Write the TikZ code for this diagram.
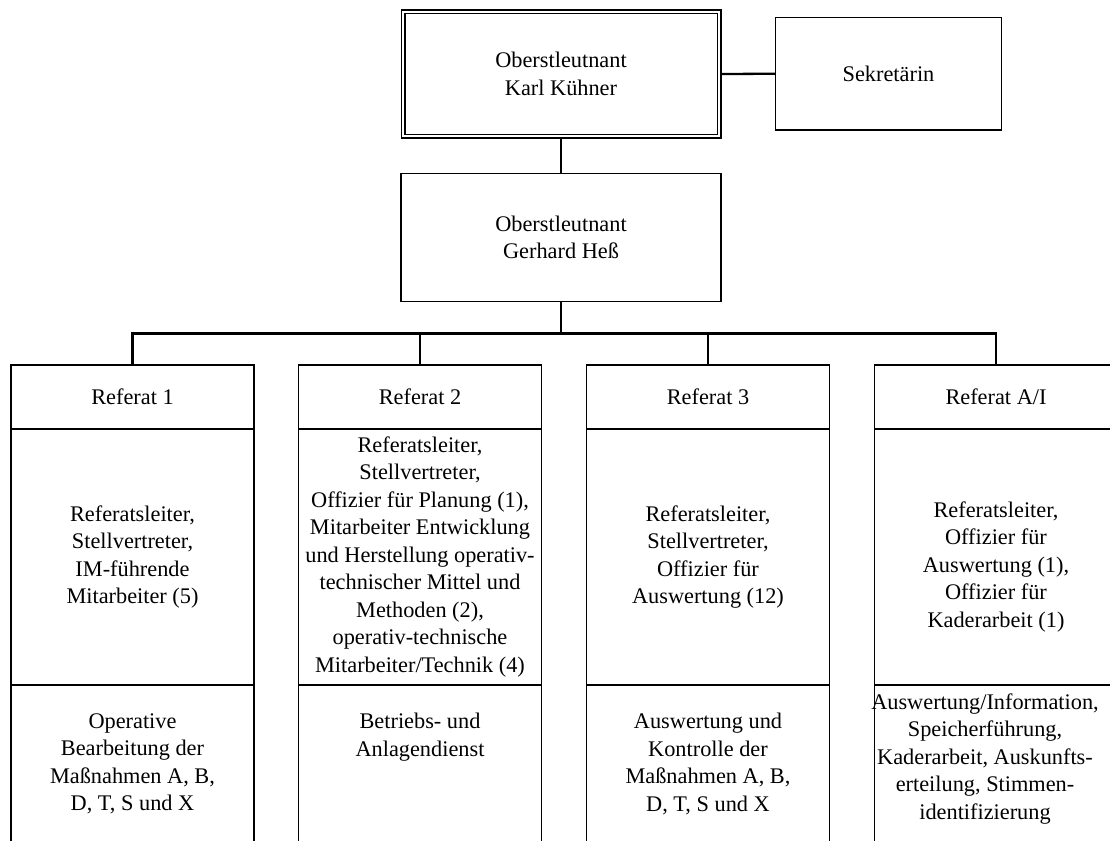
\documentclass[tikz,border=0pt]{standalone}
\usepackage{fontspec}
\setmainfont{Liberation Serif}
\begin{document}
\begin{tikzpicture}[x=1bp,y=-1bp,
  box/.style={draw=black,line width=1.1bp,fill=white,inner sep=0pt,align=center},
  txt/.style={inner sep=0pt,align=center,font=\fontsize{22.4}{27.6}\selectfont},
  conn/.style={draw=black,line width=2.3bp}]
\useasboundingbox (0,0) rectangle (1110,841);
\clip (0,0) rectangle (1110,841);

% head of the department and secretary
\node[box,double,double distance=2.8bp,line width=1.1bp,outer sep=2.5bp,
      minimum width=316bp,minimum height=124bp,
      font=\fontsize{22.4}{27.6}\selectfont] (kuehner) at (561,74)
      {Oberstleutnant\\Karl Kühner};
\node[box,minimum width=226bp,minimum height=112.5bp,
      font=\fontsize{22.4}{27.6}\selectfont] (sekr) at (888.5,73.75) {Sekretärin};
\node[box,minimum width=320bp,minimum height=127.7bp,
      font=\fontsize{22.4}{27.6}\selectfont] (hess) at (561,237.2)
      {Oberstleutnant\\Gerhard Heß};

% columns: header, staff, tasks
\foreach \n/\x in {1/132.5,2/420,3/708,4/996}{
  \node[box,minimum width=243bp,minimum height=64bp] (h\n) at (\x,397) {};
  \node[box,minimum width=243bp,minimum height=256bp] (m\n) at (\x,557) {};
  \node[box,minimum width=243bp,minimum height=170bp] (b\n) at (\x,770) {};
}

\node[txt] (h1t) at (h1) {Referat 1};
\node[txt] (h2t) at (h2) {Referat 2};
\node[txt] (h3t) at (h3) {Referat 3};
\node[txt] (h4t) at (h4) {Referat A/I};

\node[txt] (m1t) at (132.5,557) {Referatsleiter,\\Stellvertreter,\\IM-führende\\Mitarbeiter (5)};
\node[txt] (m2t) at (420,557) {Referatsleiter,\\Stellvertreter,\\Offizier für Planung (1),\\Mitarbeiter Entwicklung\\und Herstellung operativ-\\technischer Mittel und\\Methoden (2),\\operativ-technische\\Mitarbeiter/Technik (4)};
\node[txt] (m3t) at (708,557) {Referatsleiter,\\Stellvertreter,\\Offizier für\\Auswertung (12)};
\node[txt] (m4t) at (996,567) {Referatsleiter,\\Offizier für\\Auswertung (1),\\Offizier für\\Kaderarbeit (1)};

\node[txt] (b1t) at (132.5,764) {Operative\\Bearbeitung der\\Maßnahmen A, B,\\D, T, S und X};
\node[txt] (b2t) at (420,737) {Betriebs- und\\Anlagendienst};
\node[txt] (b3t) at (708,764) {Auswertung und\\Kontrolle der\\Maßnahmen A, B,\\D, T, S und X};
\node[txt] (b4t) at (985,759) {Auswertung/Information,\\Speicherführung,\\Kaderarbeit, Auskunfts-\\erteilung, Stimmen-\\identifizierung};

% connectors
\coordinate (bus) at (561,333.5);
\draw[conn] (kuehner.east) -- (sekr.west);
\draw[conn] (kuehner.south) -- (hess.north);
\draw[conn] (hess.south) -- (bus);
\draw[conn] (h1.north) |- (bus);
\draw[conn] (h2.north) |- (bus);
\draw[conn] (h3.north) |- (bus);
\draw[conn] (h4.north) |- (bus);
\end{tikzpicture}
\end{document}
